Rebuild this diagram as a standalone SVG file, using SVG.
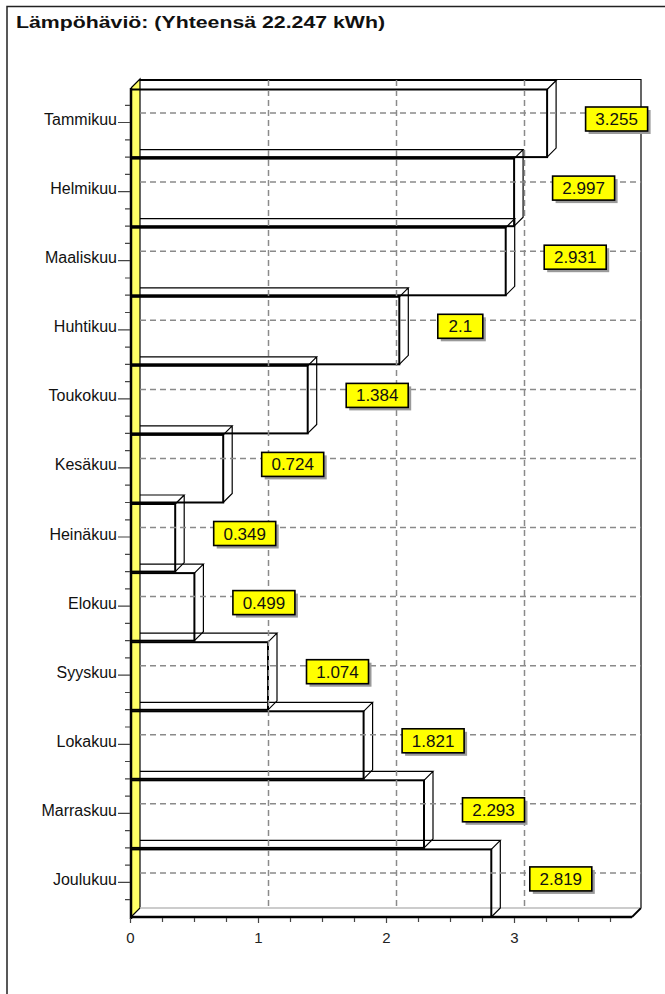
<svg xmlns="http://www.w3.org/2000/svg" width="665" height="994" viewBox="0 0 665 994">
<style>
.frame{fill:none;stroke:#222;stroke-width:1.5}
.title{font-family:"Liberation Sans",Arial,sans-serif;font-weight:bold;font-size:17px;fill:#111}
.cat{font-family:"Liberation Sans",Arial,sans-serif;font-size:16px;fill:#111;text-anchor:end}
.num{font-family:"Liberation Sans",Arial,sans-serif;font-size:15px;fill:#222;text-anchor:middle}
.val{font-family:"Liberation Sans",Arial,sans-serif;font-size:17px;fill:#111;text-anchor:middle}
.grid{fill:none;stroke:#8a8a8a;stroke-width:1.5;stroke-dasharray:6 4}
.thin{fill:none;stroke:#000;stroke-width:1.2}
.thick{fill:none;stroke:#000;stroke-width:2.5}
.tick{fill:none;stroke:#444;stroke-width:1.2}
.face{fill:none;stroke:#000;stroke-width:1.2}
.front{fill:none;stroke:#000;stroke-width:2}
.box{fill:#ffff00;stroke:#000;stroke-width:1.6}
.shadow{fill:#9a9a9a}
</style>
<rect width="665" height="994" fill="#fff"/>
<path class="frame" d="M7,994 V6.5 H665"/>
<text class="title" x="16" y="27.5" textLength="369" lengthAdjust="spacingAndGlyphs">Lämpöhäviö: (Yhteensä 22.247 kWh)</text>

<g id="axes">
  <polygon points="131,88 140,79 140,908 131,917" fill="#ffff66" stroke="none"/>
  <path class="thin" d="M131,88 L140,79 V908 L131,917"/>
  <path class="thin" d="M140,79.5 H641 V908"/>
  <path fill="none" stroke="#bbb" stroke-width="1.5" d="M140,908 H641"/>
  <path fill="none" stroke="#000" stroke-width="1.8" d="M641,908 L632,917"/>
  <path class="thick" d="M131,88 V919 M130,917 H632"/>
  <path class="tick" d="M125,105.3H131 M118,122.5H131 M125,139.8H131 M125,157.1H131 M125,174.4H131 M118,191.6H131 M125,208.9H131 M125,226.2H131 M125,243.4H131 M118,260.7H131 M125,278H131 M125,295.2H131 M125,312.5H131 M118,329.8H131 M125,347.1H131 M125,364.3H131 M125,381.6H131 M118,398.9H131 M125,416.1H131 M125,433.4H131 M125,450.7H131 M118,467.9H131 M125,485.2H131 M125,502.5H131 M125,519.8H131 M118,537H131 M125,554.3H131 M125,571.6H131 M125,588.8H131 M118,606.1H131 M125,623.4H131 M125,640.6H131 M125,657.9H131 M118,675.2H131 M125,692.5H131 M125,709.7H131 M125,727H131 M118,744.3H131 M125,761.5H131 M125,778.8H131 M125,796.1H131 M118,813.3H131 M125,830.6H131 M125,847.9H131 M125,865.2H131 M118,882.4H131 M125,899.7H131"/>
  <path class="tick" d="M130.5,918V923 M162.5,918V922 M194.5,918V922 M226.5,918V922 M258.5,918V923 M290.5,918V922 M322.5,918V922 M354.5,918V922 M386.5,918V923 M418.5,918V922 M450.5,918V922 M482.5,918V922 M514.5,918V923 M546.5,918V922 M578.5,918V922 M610.5,918V922"/>
  <text class="num" x="130.5" y="943">0</text>
  <text class="num" x="258.5" y="943">1</text>
  <text class="num" x="386.5" y="943">2</text>
  <text class="num" x="514.5" y="943">3</text>
  <text class="cat" x="117" y="125">Tammikuu</text>
  <text class="cat" x="117" y="194.1">Helmikuu</text>
  <text class="cat" x="117" y="263.2">Maaliskuu</text>
  <text class="cat" x="117" y="332.3">Huhtikuu</text>
  <text class="cat" x="117" y="401.4">Toukokuu</text>
  <text class="cat" x="117" y="470.4">Kesäkuu</text>
  <text class="cat" x="117" y="539.5">Heinäkuu</text>
  <text class="cat" x="117" y="608.6">Elokuu</text>
  <text class="cat" x="117" y="677.7">Syyskuu</text>
  <text class="cat" x="117" y="746.8">Lokakuu</text>
  <text class="cat" x="117" y="815.8">Marraskuu</text>
  <text class="cat" x="117" y="884.9">Joulukuu</text>
</g>

<g id="bars">
  <g id="bar-tammikuu"><path class="face" d="M140,80.5 H556.1 L547.1,89.5 M556.1,80.5 V148.1 L547.1,157.1"/><rect class="front" x="131" y="89.5" width="416.1" height="67.6"/></g>
  <g id="bar-helmikuu"><path class="face" d="M140,149.6 H523.1 L514.1,158.6 M523.1,149.6 V217.2 L514.1,226.2"/><rect class="front" x="131" y="158.6" width="383.1" height="67.6"/></g>
  <g id="bar-maaliskuu"><path class="face" d="M140,218.7 H514.7 L505.7,227.7 M514.7,218.7 V286.3 L505.7,295.3"/><rect class="front" x="131" y="227.7" width="374.7" height="67.6"/></g>
  <g id="bar-huhtikuu"><path class="face" d="M140,287.8 H408.3 L399.3,296.8 M408.3,287.8 V355.3 L399.3,364.3"/><rect class="front" x="131" y="296.8" width="268.3" height="67.5"/></g>
  <g id="bar-toukokuu"><path class="face" d="M140,356.8 H316.7 L307.7,365.8 M316.7,356.8 V424.4 L307.7,433.4"/><rect class="front" x="131" y="365.8" width="176.7" height="67.6"/></g>
  <g id="bar-kesakuu"><path class="face" d="M140,425.9 H232.2 L223.2,434.9 M232.2,425.9 V493.5 L223.2,502.5"/><rect class="front" x="131" y="434.9" width="92.2" height="67.6"/></g>
  <g id="bar-heinakuu"><path class="face" d="M140,495 H184.2 L175.2,504 M184.2,495 V562.6 L175.2,571.6"/><rect class="front" x="131" y="504" width="44.2" height="67.6"/></g>
  <g id="bar-elokuu"><path class="face" d="M140,564.1 H203.4 L194.4,573.1 M203.4,564.1 V631.7 L194.4,640.7"/><rect class="front" x="131" y="573.1" width="63.4" height="67.6"/></g>
  <g id="bar-syyskuu"><path class="face" d="M140,633.2 H277 L268,642.2 M277,633.2 V700.8 L268,709.8"/><rect class="front" x="131" y="642.2" width="137" height="67.6"/></g>
  <g id="bar-lokakuu"><path class="face" d="M140,702.3 H372.6 L363.6,711.3 M372.6,702.3 V769.8 L363.6,778.8"/><rect class="front" x="131" y="711.3" width="232.6" height="67.5"/></g>
  <g id="bar-marraskuu"><path class="face" d="M140,771.3 H433 L424,780.3 M433,771.3 V838.9 L424,847.9"/><rect class="front" x="131" y="780.3" width="293" height="67.6"/></g>
  <g id="bar-joulukuu"><path class="face" d="M140,840.4 H500.3 L491.3,849.4 M500.3,840.4 V908 L491.3,917"/><rect class="front" x="131" y="849.4" width="360.3" height="67.6"/></g>
</g>

<g id="grid">
  <path class="grid" d="M268.5,80 V908 M396.5,80 V908 M524.5,80 V908"/>
  <path class="grid" d="M140,113 H641 M140,182.1 H641 M140,251.2 H641 M140,320.3 H641 M140,389.4 H641 M140,458.4 H641 M140,527.5 H641 M140,596.6 H641 M140,665.7 H641 M140,734.8 H641 M140,803.8 H641 M140,872.9 H641"/>
</g>

<g id="values">
  <g id="val-0"><rect class="shadow" x="588.6" y="110" width="62" height="24"/><rect class="box" x="585.6" y="107" width="62" height="24"/><text class="val" x="616.6" y="125">3.255</text></g>
  <g id="val-1"><rect class="shadow" x="555.6" y="179.1" width="62" height="24"/><rect class="box" x="552.6" y="176.1" width="62" height="24"/><text class="val" x="583.6" y="194.1">2.997</text></g>
  <g id="val-2"><rect class="shadow" x="547.2" y="248.2" width="62" height="24"/><rect class="box" x="544.2" y="245.2" width="62" height="24"/><text class="val" x="575.2" y="263.2">2.931</text></g>
  <g id="val-3"><rect class="shadow" x="440.8" y="317.3" width="45" height="24"/><rect class="box" x="437.8" y="314.3" width="45" height="24"/><text class="val" x="460.3" y="332.3">2.1</text></g>
  <g id="val-4"><rect class="shadow" x="349.2" y="386.4" width="62" height="24"/><rect class="box" x="346.2" y="383.4" width="62" height="24"/><text class="val" x="377.2" y="401.4">1.384</text></g>
  <g id="val-5"><rect class="shadow" x="264.7" y="455.4" width="62" height="24"/><rect class="box" x="261.7" y="452.4" width="62" height="24"/><text class="val" x="292.7" y="470.4">0.724</text></g>
  <g id="val-6"><rect class="shadow" x="216.7" y="524.5" width="62" height="24"/><rect class="box" x="213.7" y="521.5" width="62" height="24"/><text class="val" x="244.7" y="539.5">0.349</text></g>
  <g id="val-7"><rect class="shadow" x="235.9" y="593.6" width="62" height="24"/><rect class="box" x="232.9" y="590.6" width="62" height="24"/><text class="val" x="263.9" y="608.6">0.499</text></g>
  <g id="val-8"><rect class="shadow" x="309.5" y="662.7" width="62" height="24"/><rect class="box" x="306.5" y="659.7" width="62" height="24"/><text class="val" x="337.5" y="677.7">1.074</text></g>
  <g id="val-9"><rect class="shadow" x="405.1" y="731.8" width="62" height="24"/><rect class="box" x="402.1" y="728.8" width="62" height="24"/><text class="val" x="433.1" y="746.8">1.821</text></g>
  <g id="val-10"><rect class="shadow" x="465.5" y="800.8" width="62" height="24"/><rect class="box" x="462.5" y="797.8" width="62" height="24"/><text class="val" x="493.5" y="815.8">2.293</text></g>
  <g id="val-11"><rect class="shadow" x="532.8" y="869.9" width="62" height="24"/><rect class="box" x="529.8" y="866.9" width="62" height="24"/><text class="val" x="560.8" y="884.9">2.819</text></g>
</g>
</svg>
